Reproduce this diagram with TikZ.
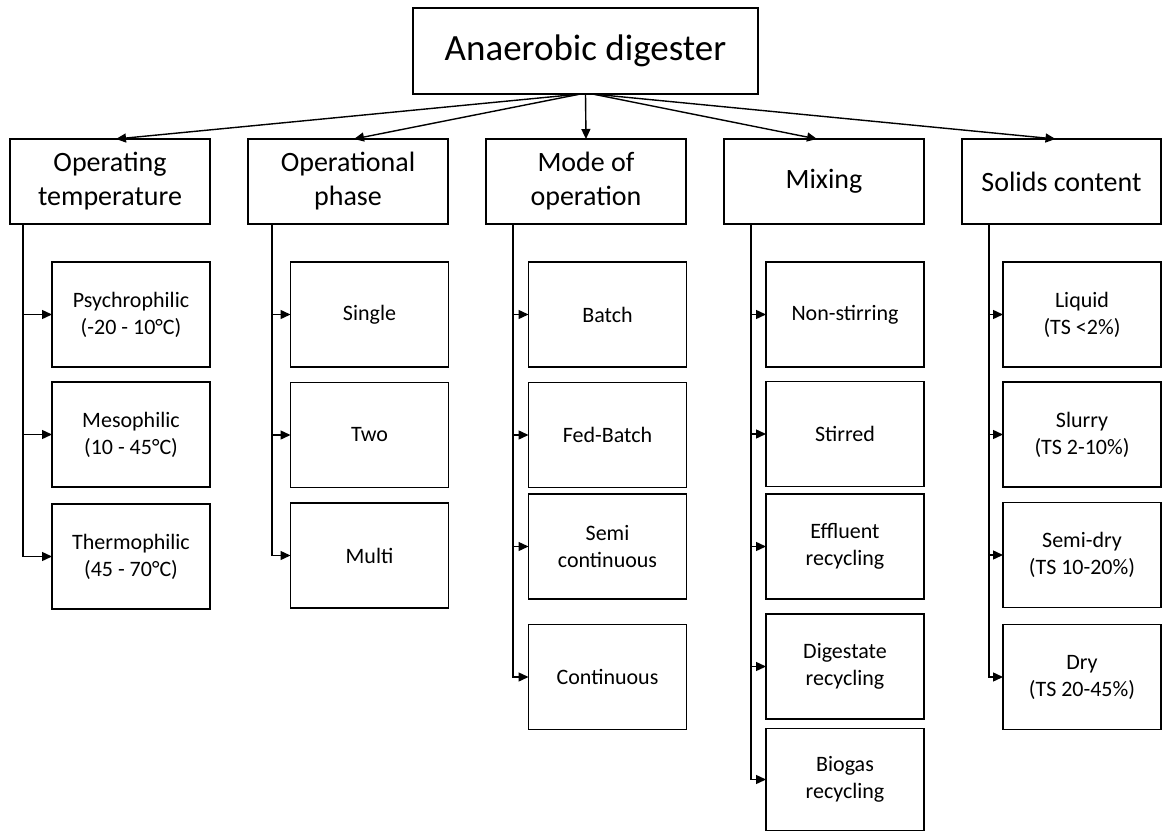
\documentclass[tikz,border=0pt]{standalone}
\usepackage{fontspec}
\setmainfont{Carlito}
\usetikzlibrary{arrows.meta}
\tikzstyle{base}=[x=1pt, y=-1pt, line width=1.4pt, inner sep=0pt, outer sep=0pt]
\tikzstyle{topbox}=[draw, minimum width=345pt, minimum height=86pt, font=\fontsize{37}{44}\selectfont]
\tikzstyle{catbox}=[draw, align=center, minimum width=200pt, minimum height=85pt, font=\fontsize{28}{34}\selectfont]
\tikzstyle{subbox}=[draw, align=center, minimum width=158pt, minimum height=105pt, font=\fontsize{22}{27}\selectfont]
\tikzstyle{arr}=[-{Triangle[length=10pt,width=9pt]}]

\begin{document}
\begin{tikzpicture}[base]
    \useasboundingbox (0,0) rectangle (1162,832);
    % top
    \node [topbox] (ad) at (585.5,51) {Anaerobic digester};
    % categories
    \node [catbox] (temp) at (110,181.5) {Operating\\temperature};
    \node [catbox] (phase) at (348,181.5) {Operational\\phase};
    \node [catbox] (mode) at (586,181.5) {Mode of\\operation};
    \node [catbox] (mix) at (824,181.5) {Mixing};
    \node [catbox, minimum width=199pt] (solids) at (1061.5,181.5) {Solids content};
    \draw [arr] ([xshift=-5pt]ad.south) -- ([xshift=6pt]temp.north);
    \draw [arr] ([xshift=-5pt]ad.south) -- ([xshift=6pt]phase.north);
    \draw [arr] (ad.south) -- (mode.north);
    \draw [arr] ([xshift=7pt]ad.south) -- ([xshift=-7pt]mix.north);
    \draw [arr] ([xshift=7pt]ad.south) -- ([xshift=-6pt]solids.north);
    % spines
    \coordinate (sp1) at (23,224);
    \coordinate (sp2) at (272,224);
    \coordinate (sp3) at (513,224);
    \coordinate (sp4) at (751,224);
    \coordinate (sp5) at (989,224);
    % temperature
    \node [subbox] (psy) at (131,314.5) {Psychrophilic\\(-20 - 10°C)};
    \node [subbox] (meso) at (131,434.5) {Mesophilic\\(10 - 45°C)};
    \node [subbox] (thermo) at (131,556.5) {Thermophilic\\(45 - 70°C)};
    \draw [arr] (sp1) |- (psy.west);
    \draw [arr] (sp1) |- (meso.west);
    \draw [arr] (sp1) |- (thermo.west);
    % phase
    \node [subbox] (single) at (369.5,314.5) {Single};
    \node [subbox] (two) at (369.5,435) {Two};
    \node [subbox] (multi) at (369.5,555.5) {Multi};
    \draw [arr] (sp2) |- (single.west);
    \draw [arr] (sp2) |- (two.west);
    \draw [arr] (sp2) |- (multi.west);
    % mode
    \node [subbox] (batch) at (607.5,314.5) {Batch};
    \node [subbox] (fedbatch) at (607.5,435) {Fed-Batch};
    \node [subbox] (semicont) at (607.5,546.5) {Semi\\continuous};
    \node [subbox] (cont) at (607.5,677) {Continuous};
    \draw [arr] (sp3) |- (batch.west);
    \draw [arr] (sp3) |- (fedbatch.west);
    \draw [arr] (sp3) |- (semicont.west);
    \draw [arr] (sp3) |- (cont.west);
    % mixing
    \node [subbox] (nonstir) at (845,314.5) {Non-stirring};
    \node [subbox] (stirred) at (845,434) {Stirred};
    \node [subbox] (effluent) at (845,546.5) {Effluent\\recycling};
    \node [subbox] (digestate) at (845,666.5) {Digestate\\recycling};
    \node [subbox, minimum height=102pt] (biogas) at (845,779.5) {Biogas\\recycling};
    \draw [arr] (sp4) |- (nonstir.west);
    \draw [arr] (sp4) |- (stirred.west);
    \draw [arr] (sp4) |- (effluent.west);
    \draw [arr] (sp4) |- (digestate.west);
    \draw [arr] (sp4) |- (biogas.west);
    % solids
    \node [subbox] (liquid) at (1082,314.5) {Liquid\\(TS <2\%)};
    \node [subbox] (slurry) at (1082,434.5) {Slurry\\(TS 2-10\%)};
    \node [subbox] (semidry) at (1082,555) {Semi-dry\\(TS 10-20\%)};
    \node [subbox] (dry) at (1082,677) {Dry\\(TS 20-45\%)};
    \draw [arr] (sp5) |- (liquid.west);
    \draw [arr] (sp5) |- (slurry.west);
    \draw [arr] (sp5) |- (semidry.west);
    \draw [arr] (sp5) |- (dry.west);
\end{tikzpicture}
\end{document}
